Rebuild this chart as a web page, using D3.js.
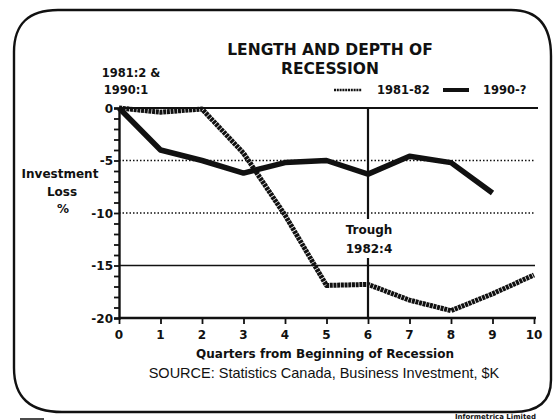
<!DOCTYPE html>
<html>
<head>
<meta charset="utf-8">
<script src="https://cdn.jsdelivr.net/npm/d3@7"></script>
<style>
  html, body { margin: 0; padding: 0; background: #fff; }
  svg { display: block; font-family: "DejaVu Sans", "Liberation Sans", Arial, sans-serif; }
</style>
</head>
<body>
<svg id="chart" width="555" height="420"></svg>
<script>
// data
const quarters = [0, 1, 2, 3, 4, 5, 6, 7, 8, 9, 10];
const rec1981 = [0, -0.4, -0.1, -4.3, -10.2, -16.9, -16.8, -18.3, -19.3, -17.7, -15.9];
const rec1990 = [0, -4.0, -5.0, -6.2, -5.2, -5.0, -6.3, -4.6, -5.2, -8.1];
const yTicks = [0, -5, -10, -15, -20];
const xTicks = [0, 1, 2, 3, 4, 5, 6, 7, 8, 9, 10];

const svg = d3.select("#chart");
const ink = "#111";

const x = d3.scaleLinear().domain([0, 10]).range([119, 534]);
const y = d3.scaleLinear().domain([-20, 0]).range([318, 108]);

// hand drawn looking frame
const L = 14, R = 551, T = 10, B = 412;
svg.append("path")
    .attr("d", `M${L},${T + 42} Q${L},${T} ${L + 44},${T} L${R - 40},${T}
        Q${R},${T} ${R},${T + 46} L${R},${B - 32} Q${R},${B} ${R - 38},${B}
        L${L + 48},${B} Q${L},${B} ${L},${B - 44} Z`)
    .attr("fill", "none")
    .attr("stroke", ink)
    .attr("stroke-width", 2.4);

// grid lines
[0, -5, -10, -15].forEach(v => {
    const dotted = v === -5 || v === -10;
    svg.append("line")
        .attr("x1", x(0)).attr("x2", v === 0 ? 538 : 535)
        .attr("y1", y(v)).attr("y2", y(v))
        .attr("stroke", ink)
        .attr("stroke-width", v === 0 ? 2 : 1.5)
        .attr("stroke-dasharray", dotted ? "1.5,2" : null);
});

// trough marker
svg.append("line").attr("x1", x(6)).attr("x2", x(6)).attr("y1", y(0)).attr("y2", 219)
    .attr("stroke", ink).attr("stroke-width", 2.2);
svg.append("line").attr("x1", x(6)).attr("x2", x(6)).attr("y1", 258).attr("y2", y(-20))
    .attr("stroke", ink).attr("stroke-width", 2.2);

// axes
const yAxis = svg.append("g")
    .attr("transform", `translate(${x(0)},0)`)
    .call(d3.axisLeft(y).tickValues(d3.range(-20, 1)).tickSize(5).tickFormat(""));
const xAxis = svg.append("g")
    .attr("transform", `translate(0,${y(-20)})`)
    .call(d3.axisBottom(x).tickValues(xTicks).tickSize(6).tickFormat(""));
[yAxis, xAxis].forEach(g => {
    g.select(".domain").attr("stroke", ink).attr("stroke-width", 2.4);
    g.selectAll(".tick line").attr("stroke", ink).attr("stroke-width", 1.8);
});
xAxis.select(".domain").attr("d", `M${x(0)},0H536`);

svg.selectAll(".ylab").data(yTicks).enter().append("text")
    .attr("x", 113).attr("y", d => y(d) + 4.5)
    .attr("text-anchor", "end")
    .attr("font-size", 12).attr("font-weight", "bold").attr("fill", ink)
    .text(d => d === 0 ? "0" : "-" + Math.abs(d));

svg.selectAll(".xlab").data(xTicks).enter().append("text")
    .attr("x", d => x(d)).attr("y", 339)
    .attr("text-anchor", "middle")
    .attr("font-size", 12).attr("font-weight", "bold").attr("fill", ink)
    .text(d => d);

// series
const line = d3.line().x((d, i) => x(quarters[i])).y(d => y(d));

svg.append("path").datum(rec1990)
    .attr("d", line)
    .attr("fill", "none").attr("stroke", ink)
    .attr("stroke-width", 5.5).attr("stroke-linejoin", "round");

svg.append("path").datum(rec1981)
    .attr("d", line)
    .attr("fill", "none").attr("stroke", ink)
    .attr("stroke-width", 5).attr("stroke-linejoin", "round")
    .attr("stroke-dasharray", "3,0.7");

// texts
const txt = (s, px, py, size, weight, anchor) => svg.append("text")
    .attr("x", px).attr("y", py)
    .attr("font-size", size).attr("font-weight", weight || "bold")
    .attr("text-anchor", anchor || "middle").attr("fill", ink)
    .text(s);

txt("LENGTH AND DEPTH OF", 330, 55, 15.5);
txt("RECESSION", 330, 74, 15.5);
txt("1981:2 &", 131, 77, 11.5);
txt("1990:1", 126, 94, 11.5);
txt("Investment", 60, 178, 12);
txt("Loss", 62, 196, 12);
txt("%", 63, 213, 12);
txt("Trough", 369, 234, 12);
txt("1982:4", 369, 253, 12);
txt("Quarters from Beginning of Recession", 325, 358, 12);
txt("SOURCE: Statistics Canada, Business Investment, $K", 324, 378, 14.5, "normal")
    .attr("font-family", "'Liberation Sans', Arial, sans-serif");
txt("Informetrica Limited", 536, 419, 7, "bold", "end");

// legend
svg.append("line").attr("x1", 334).attr("x2", 362).attr("y1", 90).attr("y2", 90)
    .attr("stroke", ink).attr("stroke-width", 2.5).attr("stroke-dasharray", "2,0.8");
txt("1981-82", 377, 94, 11.5, "bold", "start");
svg.append("line").attr("x1", 443).attr("x2", 469).attr("y1", 90).attr("y2", 90)
    .attr("stroke", ink).attr("stroke-width", 4);
txt("1990-?", 483, 94, 11.5, "bold", "start");

// small mark under frame, bottom left
svg.append("line").attr("x1", 20).attr("x2", 44).attr("y1", 419).attr("y2", 419)
    .attr("stroke", ink).attr("stroke-width", 1.5);
</script>
</body>
</html>
